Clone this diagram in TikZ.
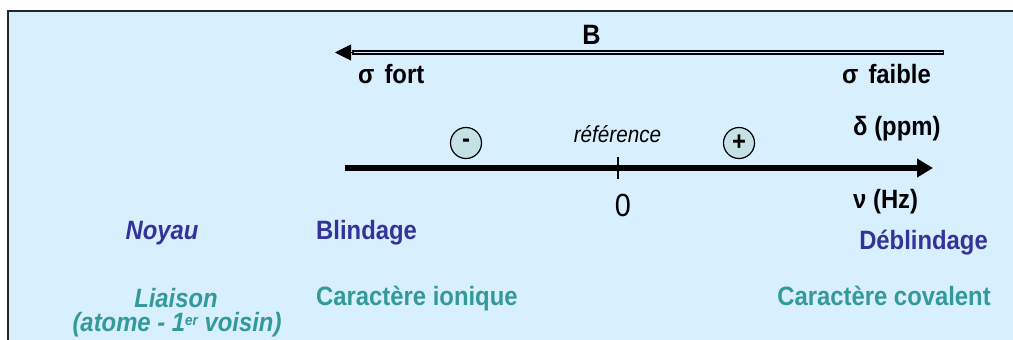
\documentclass[tikz,border=0pt]{standalone}
\usepackage{fontspec}
\setmainfont{Liberation Sans}[FakeStretch=0.9]
\usetikzlibrary{arrows.meta}
\definecolor{bgblue}{RGB}{216,239,253}
\definecolor{dkblue}{RGB}{51,51,153}
\definecolor{teal2}{RGB}{51,153,153}
\definecolor{circfill}{RGB}{196,226,228}
\newcommand{\fsz}{\fontsize{26.5}{30}\selectfont}
\tikzset{
  txt/.style={inner sep=0pt, font=\fsz\bfseries},
  blu/.style={txt, text=dkblue},
  tel/.style={txt, text=teal2},
  sign/.style={circle, draw=black, line width=1.2pt, fill=circfill, minimum size=31pt, inner sep=0pt, font=\fsz\bfseries}
}
\begin{document}
\begin{tikzpicture}[x=1pt,y=-1pt]
\useasboundingbox (0,0) rectangle (1013,340);
\fill[white] (0,0) rectangle (1013,340);
\fill[bgblue] (8,10.5) rectangle (1013,340);
\draw[line width=2pt, black!85] (8,340) -- (8,10.5) -- (1013,10.5);

% B arrow (double line)
\coordinate (Bs) at (944,52.5);
\coordinate (Bm) at (352,52.5);
\coordinate (Bt) at (335,52.5);
\draw[line width=4.6pt, black] (Bs) -- (Bm);
\draw[line width=1.4pt, bgblue] ([xshift=-1pt]Bs) -- (Bm);
\draw[line width=1pt, -{Triangle[length=16pt,width=16pt]}] ([xshift=2pt]Bm) -- (Bt);
\node[txt, anchor=base, font=\fontsize{28}{30}\selectfont\bfseries] (B) at (591.5,44) {B};
\node[txt, anchor=base west] (sfort) at (358,83) {σ\hspace{10pt}fort};
\node[txt, anchor=base east] (sfaible) at (931,83) {σ\hspace{10pt}faible};

% main axis
\coordinate (As) at (345,168);
\coordinate (Ae) at (933,168);
\draw[line width=6pt, -{Triangle[length=16pt,width=18pt]}] (As) -- (Ae);
\coordinate (Tt) at (618,157);
\coordinate (Tb) at (618,179);
\draw[line width=1.3pt] (Tt) -- (Tb);
\node[inner sep=0pt, anchor=base, font=\fontsize{23}{26}\selectfont\itshape] (ref) at (617.5,142) {référence};
\node[inner sep=0pt, anchor=base, font=\fontsize{32}{34}\selectfont] (zero) at (623,216) {0};
\node[sign] (minus) at (466,143) {-};
\node[sign] (plus) at (739,143) {+};
\node[txt, anchor=base west] (delta) at (853,135) {δ (ppm)};
\node[txt, anchor=base west] (nu) at (853,208) {ν (Hz)};

% bottom labels
\node[blu, anchor=base, font=\fsz\bfseries\itshape] (noyau) at (162,239) {Noyau};
\node[blu, anchor=base west] (blind) at (316,239) {Blindage};
\node[blu, anchor=base east] (deblind) at (988,249) {Déblindage};
\node[tel, anchor=base, font=\fsz\bfseries\itshape] (liaison) at (176,307) {Liaison};
\node[tel, anchor=base, font=\fsz\bfseries\itshape] (atome) at (177,331) {(atome - 1\raisebox{6pt}{\fontsize{15}{15}\selectfont er} voisin)};
\node[tel, anchor=base west] (ionique) at (316,305) {Caractère ionique};
\node[tel, anchor=base east] (covalent) at (991,305) {Caractère covalent};
\end{tikzpicture}
\end{document}
